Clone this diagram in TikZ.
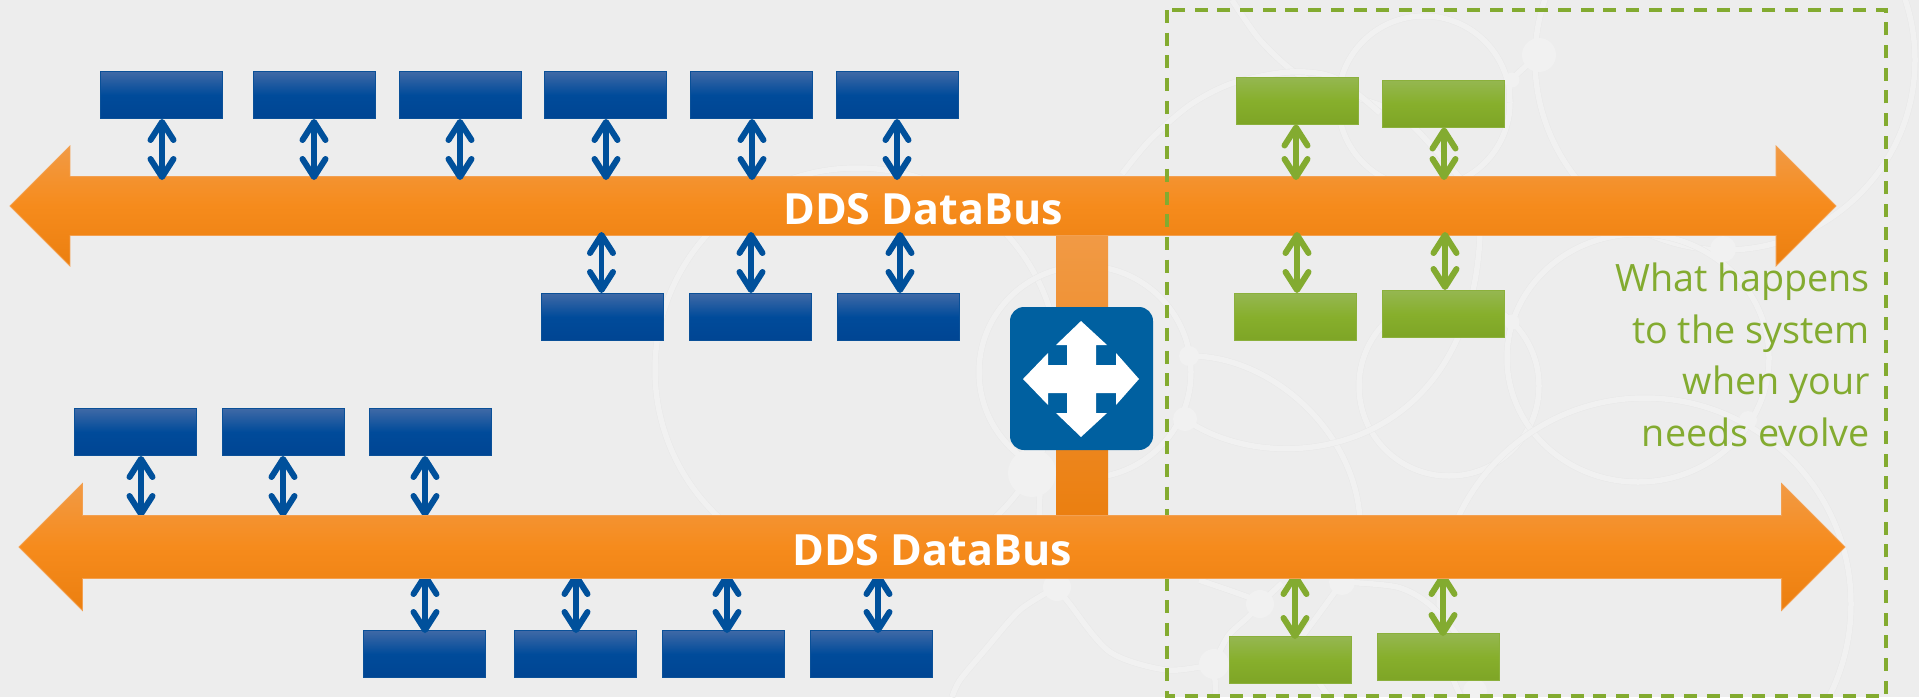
\documentclass[tikz,border=0pt]{standalone}
\usepackage{fontspec}
\setmainfont{Open Sans}
\usetikzlibrary{shapes,arrows.meta,positioning,calc}

\definecolor{pagegray}{HTML}{EDEDED}
\definecolor{netfill}{HTML}{F1F1F1}
\definecolor{netedge}{HTML}{E8E8E8}
\definecolor{bluetop}{HTML}{3F69A6}
\definecolor{bluemid}{HTML}{004B9A}
\definecolor{bluelow}{HTML}{004593}
\definecolor{blueedge}{HTML}{0A5098}
\definecolor{bluelink}{HTML}{00509B}
\definecolor{greentop}{HTML}{95B751}
\definecolor{greenmid}{HTML}{87AF2C}
\definecolor{greenlow}{HTML}{7EA526}
\definecolor{greenedge}{HTML}{8BB03C}
\definecolor{greenlink}{HTML}{83AB30}
\definecolor{bustop}{HTML}{F19A45}
\definecolor{busmid}{HTML}{F68B1C}
\definecolor{buslow}{HTML}{EB7F10}
\definecolor{busedge}{HTML}{F3A050}
\definecolor{routerblue}{HTML}{0060A0}

\tikzset{
    bluebox/.style={rectangle, draw=blueedge, line width=1pt, top color=bluetop, bottom color=bluelow, middle color=bluemid, minimum width=122pt, minimum height=47pt, inner sep=0pt},
    greenbox/.style={rectangle, draw=greenedge, line width=1pt, top color=greentop, bottom color=greenlow, middle color=greenmid, minimum width=122pt, minimum height=47pt, inner sep=0pt},
    busarrow/.style={double arrow, draw=busedge, line width=0.8pt, top color=bustop, bottom color=buslow, middle color=busmid, inner sep=0pt, minimum height=1826pt, text=white, font=\fontsize{43}{43}\selectfont\bfseries},
    bluelinkarrow/.style={draw=bluelink, line width=5.5pt, {Straight Barb[length=18pt,width=23pt,line width=6pt,round]}-{Straight Barb[length=18pt,width=23pt,line width=6pt,round]}},
    greenlinkarrow/.style={bluelinkarrow, draw=greenlink},
    netline/.style={draw=netedge, line width=0.4pt, double=netfill, double distance=5.5pt},
    netnode/.style={circle, fill=netfill, inner sep=0pt},
}

\begin{document}
\begin{tikzpicture}[x=1pt, y=-1pt]
    \useasboundingbox (0,0) rectangle (1919,697);
    \fill[pagegray] (0,0) rectangle (1919,697);

    % Network drawn faintly behind everything
    \begin{scope}
        \clip (0,0) rectangle (1919,697);
        \draw[netline] (857,370) circle (202);
        \draw[netline] (1085,372) circle (106);
        \draw[netline] (1424,102) circle (86);
        \draw[netline] (1449,386) circle (90);
        \draw[netline] (1725,60) circle (190);
        \draw[netline] (1638,358) ellipse (131 and 124);
        \draw[netline] (1645,604) circle (206);
        \draw[netline] (1189,356) .. controls (1270,355) and (1355,430) .. (1360,520);
        \draw[netline] (1185,419) .. controls (1270,480) and (1470,460) .. (1480,235);
        \draw[netline] plot[smooth] coordinates {(1232,0) (1260,40) (1296,73) (1340,92) (1400,115) (1452,169) (1470,190)};
        \draw[netline] plot[smooth] coordinates {(1122,174) (1150,140) (1190,105) (1233,83) (1290,72) (1335,78) (1380,113)};
        \draw[netline] plot[smooth] coordinates {(1040,495) (1040,540) (1057,587)};
        \draw[netline] plot[smooth] coordinates {(1057,587) (1020,610) (985,650) (960,680) (952,697)};
        \draw[netline] plot[smooth] coordinates {(1057,587) (1069,603) (1110,652) (1167,670) (1214,664)};
        \draw[netline] plot[smooth] coordinates {(1199,580) (1248,597) (1260,604)};
        \draw[netline] plot[smooth] coordinates {(1214,664) (1228,636) (1248,617) (1260,604) (1282,583)};
        \draw[netline] plot[smooth] coordinates {(1342,582) (1307,630) (1278,665)};
        \draw[netline] plot[smooth] coordinates {(1342,582) (1397,587) (1429,604) (1457,635) (1468,665)};
        \draw[netline] (1214,664) -- (1216,697);
        \draw[netline] (1319,683) -- (1329,697);
        \draw[netline] plot[smooth] coordinates {(1539,55) (1512,80) (1510,102)};
        \node[netnode, minimum size=48pt] (neta) at (1032,473) {};
        \node[netnode, minimum size=28pt] (netb) at (1057,587) {};
        \node[netnode, minimum size=30pt] (netc) at (1214,664) {};
        \node[netnode, minimum size=28pt] (netd) at (1260,604) {};
        \node[netnode, minimum size=26pt] (nete) at (1342,582) {};
        \node[netnode, minimum size=24pt] (netf) at (1475,691) {};
        \node[netnode, minimum size=34pt] (netg) at (1539,55) {};
        \node[netnode, minimum size=15pt] (neth) at (1512,80) {};
        \node[netnode, minimum size=26pt] (neti) at (1723,249) {};
        \node[netnode, minimum size=15pt] (netj) at (1512,322) {};
        \node[netnode, minimum size=20pt] (netk) at (1189,356) {};
        \node[netnode, minimum size=24pt] (netl) at (1185,419) {};
        \node[netnode, minimum size=18pt] (netm) at (1748,420) {};
    \end{scope}

    % Link between both buses, router on top
    \node[rectangle, top color=bustop, bottom color=buslow, minimum width=52pt, minimum height=283pt, inner sep=0pt] (busjoin) at (1082,375.5) {};
    \node[rectangle, rounded corners=14pt, fill=routerblue, minimum width=143pt, minimum height=143pt, inner sep=0pt] (router) at (1081.5,378.5) {};
    \fill[white] (1081,321) -- (1107,345) -- (1096,345) -- (1096,365) -- (1116,365) -- (1116,353) -- (1139,379)
        -- (1116,405) -- (1116,393) -- (1096,393) -- (1096,413) -- (1107,413) -- (1081,437) -- (1056,413)
        -- (1067,413) -- (1067,393) -- (1048,393) -- (1048,405) -- (1023,379) -- (1048,353) -- (1048,365)
        -- (1067,365) -- (1067,345) -- (1056,345) -- cycle;

    % First bus, with the dashed frame over it
    \node[busarrow, minimum width=119pt, double arrow head extend=30.5pt, text height=47.5pt, text depth=10.5pt] (busa) at (923,206) {DDS DataBus};
    \coordinate (busatop) at (0,180);
    \coordinate (busabot) at (0,232);
    \coordinate (busbtop) at (0,517);
    \coordinate (busbbot) at (0,573);
    \draw[greenlink, line width=3.5pt, dash pattern=on 13pt off 9.7pt] (1167,10) rectangle (1886,696);

    % Boxes
    \foreach \name/\xc/\yc in {bluea/161.5/95, blueb/314/95, bluec/460/95, blued/605.5/95, bluee/751.5/95, bluef/897.5/95,
        blueg/602.5/317, blueh/750.5/317, bluei/898.5/317,
        bluej/135/432, bluek/283/432, bluel/430.5/432,
        bluem/424.5/654, bluen/575.5/654, blueo/723.5/654, bluep/871.5/654} {
        \node[bluebox] (\name) at (\xc,\yc) {};
    }
    \foreach \name/\xc/\yc in {greena/1297/100.5, greenb/1443/103.5, greenc/1295/317, greend/1443/314, greene/1290/660, greenf/1438/657} {
        \node[greenbox] (\name) at (\xc,\yc) {};
    }

    % Connectors
    \foreach \name/\dx in {bluea/0.5, blueb/0, bluec/0, blued/0.5, bluee/0.5, bluef/-0.5} {
        \draw[bluelinkarrow] ([xshift=\dx pt]\name.south) -- ([xshift=\dx pt]\name.south |- busatop);
    }
    \foreach \name/\dx in {blueg/-1, blueh/0.5, bluei/1.5} {
        \draw[bluelinkarrow] ([xshift=\dx pt]\name.north) -- ([xshift=\dx pt]\name.north |- busabot);
    }
    \foreach \name/\dx in {bluej/6, bluek/0, bluel/-5.5} {
        \draw[bluelinkarrow] ([xshift=\dx pt]\name.south) -- ([xshift=\dx pt]\name.south |- busbtop);
    }
    \foreach \name/\dx in {bluem/0.5, bluen/0.5, blueo/3.5, bluep/6.5} {
        \draw[bluelinkarrow] ([xshift=\dx pt, yshift=-3pt]\name.north) -- ([xshift=\dx pt]\name.north |- busbbot);
    }
    \foreach \name/\dx in {greena/-1, greenb/1} {
        \draw[greenlinkarrow] ([xshift=\dx pt]\name.south) -- ([xshift=\dx pt]\name.south |- busatop);
    }
    \foreach \name/\dx in {greenc/2, greend/2} {
        \draw[greenlinkarrow] ([xshift=\dx pt]\name.north) -- ([xshift=\dx pt]\name.north |- busabot);
    }
    \foreach \name/\dx in {greene/5, greenf/5} {
        \draw[greenlinkarrow] ([xshift=\dx pt, yshift=-3pt]\name.north) -- ([xshift=\dx pt]\name.north |- busbbot);
    }

    % Second bus hides the upper tips below it
    \node[busarrow, minimum width=126pt, double arrow head extend=32pt, text height=49.5pt, text depth=12.5pt] (busb) at (932,547) {DDS DataBus};

    % Text on the right
    \node[anchor=east, align=right, inner sep=0pt, text=greenlink, font=\fontsize{37.7}{51.5}\selectfont] (note) at (1870,355) {What happens\\to the system\\when your\\needs evolve};
\end{tikzpicture}
\end{document}
